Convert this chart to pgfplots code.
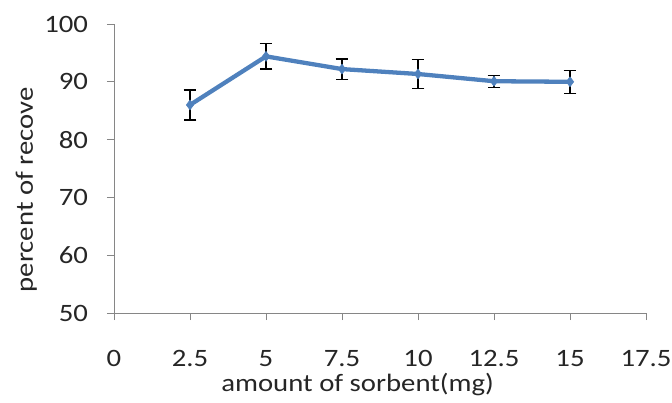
\documentclass[border=0pt]{standalone}
\usepackage{pgfplots}
\pgfplotsset{compat=1.18}
\usepackage{fontspec}
\setmainfont{Carlito}[FakeStretch=1.15]
\definecolor{exblue}{RGB}{79,129,189}
\definecolor{axgray}{RGB}{134,134,134}
\begin{document}
\begin{tikzpicture}
\begin{axis}[
  scale only axis,
  width=532bp, height=289bp,
  xmin=0, xmax=17.5, ymin=50, ymax=100,
  axis x line*=bottom, axis y line*=left,
  axis line style={axgray, line width=1pt},
  every tick/.style={axgray, line width=1pt},
  tick align=outside, major tick length=7bp,
  xtick={0,2.5,5,7.5,10,12.5,15,17.5},
  xticklabels={0,2.5,5,7.5,10,12.5,15,17.5},
  ytick={50,60,70,80,90,100},
  /pgf/number format/assume math mode=true,
  font=\fontsize{25bp}{29bp}\selectfont,
  ticklabel style={font=\fontsize{25bp}{29bp}\selectfont, text=black!85},
  xticklabel style={yshift=-27bp},
  yticklabel style={xshift=-15.5bp},
  xlabel={amount of sorbent(mg)},
  ylabel={percent of recove},
  xlabel style={at={(axis description cs:0.458,-0.246)}, anchor=center, text=black!85},
  ylabel style={at={(axis description cs:-0.165,0.426)}, anchor=center, text=black!85},
  clip=false,
]
\coordinate (O) at (rel axis cs:0,0);
\addplot[color=exblue, line width=4.3pt, mark=diamond*, mark size=5pt,
  mark options={fill=exblue, draw=exblue, line width=0.5pt},
  error bars/.cd, y dir=both, y explicit,
  error bar style={black, line width=1.3pt},
  error mark options={rotate=90, mark size=6.3bp, black, line width=1.3pt}]
coordinates {
  (2.5,86.0) +- (0,2.6)
  (5,94.4) +- (0,2.2)
  (7.5,92.2) +- (0,1.75)
  (10,91.35) +- (0,2.55)
  (12.5,90.1) +- (0,1.05)
  (15,90.0) +- (0,2.0)
};
\end{axis}
\pgfresetboundingbox
\path (O) ++(-114bp,-90bp) rectangle ++(672bp,403bp);
\end{tikzpicture}
\end{document}
